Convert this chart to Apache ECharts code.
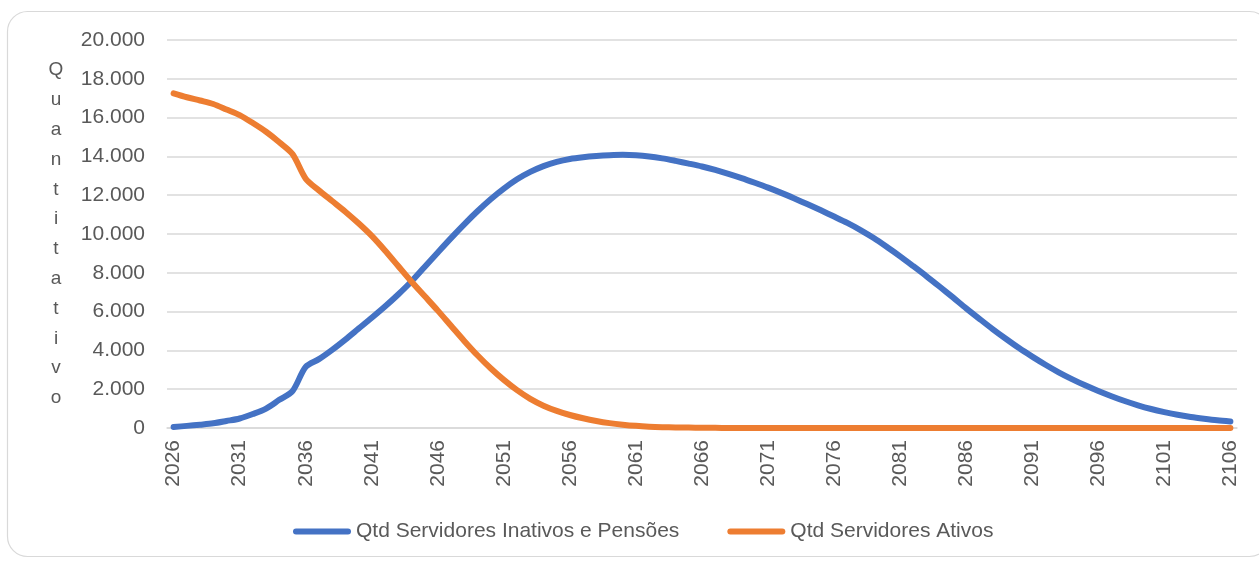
<!DOCTYPE html>
<html>
<head>
<meta charset="utf-8">
<script src="https://cdn.jsdelivr.net/npm/echarts@6/dist/echarts.min.js"></script>
<style>
  html, body { margin: 0; padding: 0; background: #fff; }
  #chart { width: 1259px; height: 562px; }
</style>
</head>
<body>
<div id="chart"></div>
<script>
// anos 2026..2106
const years = [];
for (let y = 2026; y <= 2106; y++) years.push(String(y));

// Qtd Servidores Inativos e Pensões
const inativos = [
  50, 110, 170, 240, 360, 490, 720, 1000, 1450, 1900,
  3150, 3550, 4030, 4560, 5120, 5680, 6260, 6880, 7550, 8300,
  9050, 9790, 10500, 11170, 11790, 12340, 12820, 13200, 13500, 13720,
  13870, 13960, 14020, 14060, 14080, 14060, 14000, 13900, 13770, 13630,
  13480, 13300, 13100, 12880, 12640, 12390, 12120, 11830, 11530, 11220,
  10900, 10570, 10200, 9790, 9330, 8850, 8340, 7820, 7280, 6730,
  6170, 5630, 5100, 4600, 4120, 3680, 3260, 2870, 2520, 2200,
  1910, 1640, 1390, 1170, 980, 820, 680, 570, 480, 400,
  340
];

// Qtd Servidores Ativos
const ativos = [
  17250, 17050, 16880, 16700, 16420, 16130, 15720, 15270, 14730, 14120,
  12850, 12250, 11700, 11150, 10550, 9900, 9150, 8350, 7550, 6800,
  6050, 5270, 4490, 3750, 3080, 2480, 1950, 1500, 1150, 880,
  670, 500, 360, 250, 170, 110, 70, 45, 30, 20,
  12, 8, 5, 3, 2, 1, 1, 1, 1, 1,
  1, 1, 1, 1, 1, 0, 0, 0, 0, 0,
  0, 0, 0, 0, 0, 0, 0, 0, 0, 0,
  0, 0, 0, 0, 0, 0, 0, 0, 0, 0,
  0
];

const seriesNames = ['Qtd Servidores Inativos e Pensões', 'Qtd Servidores Ativos'];
const colors = ['#4472C4', '#ED7D31'];
const yAxisName = 'Quantitativo';

const textColor = '#595959';
const font = 'Liberation Sans';

const chart = echarts.init(document.getElementById('chart'));

const option = {
  animation: false,
  color: colors,
  // moldura
  graphic: [{
    type: 'rect',
    shape: { x: 7.5, y: 11.5, width: 1262, height: 545, r: 20 },
    style: { fill: 'none', stroke: '#d9d9d9', lineWidth: 1.2 },
    silent: true,
    z: -1
  }],
  grid: { left: 167, right: 22, top: 40, bottom: 134 },
  legend: {
    left: 288,
    top: 516,
    itemGap: 48,
    itemWidth: 58,
    itemHeight: 6,
    icon: 'path://M3,0 L55,0 A3,3 0 0 1 55,6 L3,6 A3,3 0 0 1 3,0 Z',
    textStyle: { color: textColor, fontSize: 21, fontFamily: font },
    data: seriesNames
  },
  xAxis: {
    type: 'category',
    data: years,
    boundaryGap: true,
    axisLine: { lineStyle: { color: '#d9d9d9', width: 1.5 } },
    axisTick: { show: false },
    axisLabel: {
      interval: 4,
      rotate: 90,
      margin: 12,
      color: textColor,
      fontSize: 21,
      fontFamily: font
    }
  },
  yAxis: {
    type: 'value',
    min: 0,
    max: 20000,
    interval: 2000,
    name: yAxisName.split('').join('\n'),
    nameLocation: 'middle',
    nameRotate: 0,
    nameGap: 111,
    nameTextStyle: {
      color: textColor,
      fontSize: 19,
      fontFamily: font,
      lineHeight: 29.8,
      align: 'center',
      padding: [4, 0, 0, 0]
    },
    axisLine: { show: false },
    axisTick: { show: false },
    splitLine: { lineStyle: { color: '#d9d9d9', width: 1.5 } },
    axisLabel: {
      margin: 22,
      color: textColor,
      fontSize: 21,
      fontFamily: font,
      formatter: (v) => v.toLocaleString('pt-BR')
    }
  },
  series: [
    {
      name: seriesNames[0],
      type: 'line',
      data: inativos,
      smooth: 0.3,
      symbol: 'none',
      lineStyle: { width: 6, cap: 'round', join: 'round' },
      z: 2
    },
    {
      name: seriesNames[1],
      type: 'line',
      data: ativos,
      smooth: 0.3,
      symbol: 'none',
      lineStyle: { width: 6, cap: 'round', join: 'round' },
      z: 3
    }
  ]
};

chart.setOption(option);
</script>
</body>
</html>
